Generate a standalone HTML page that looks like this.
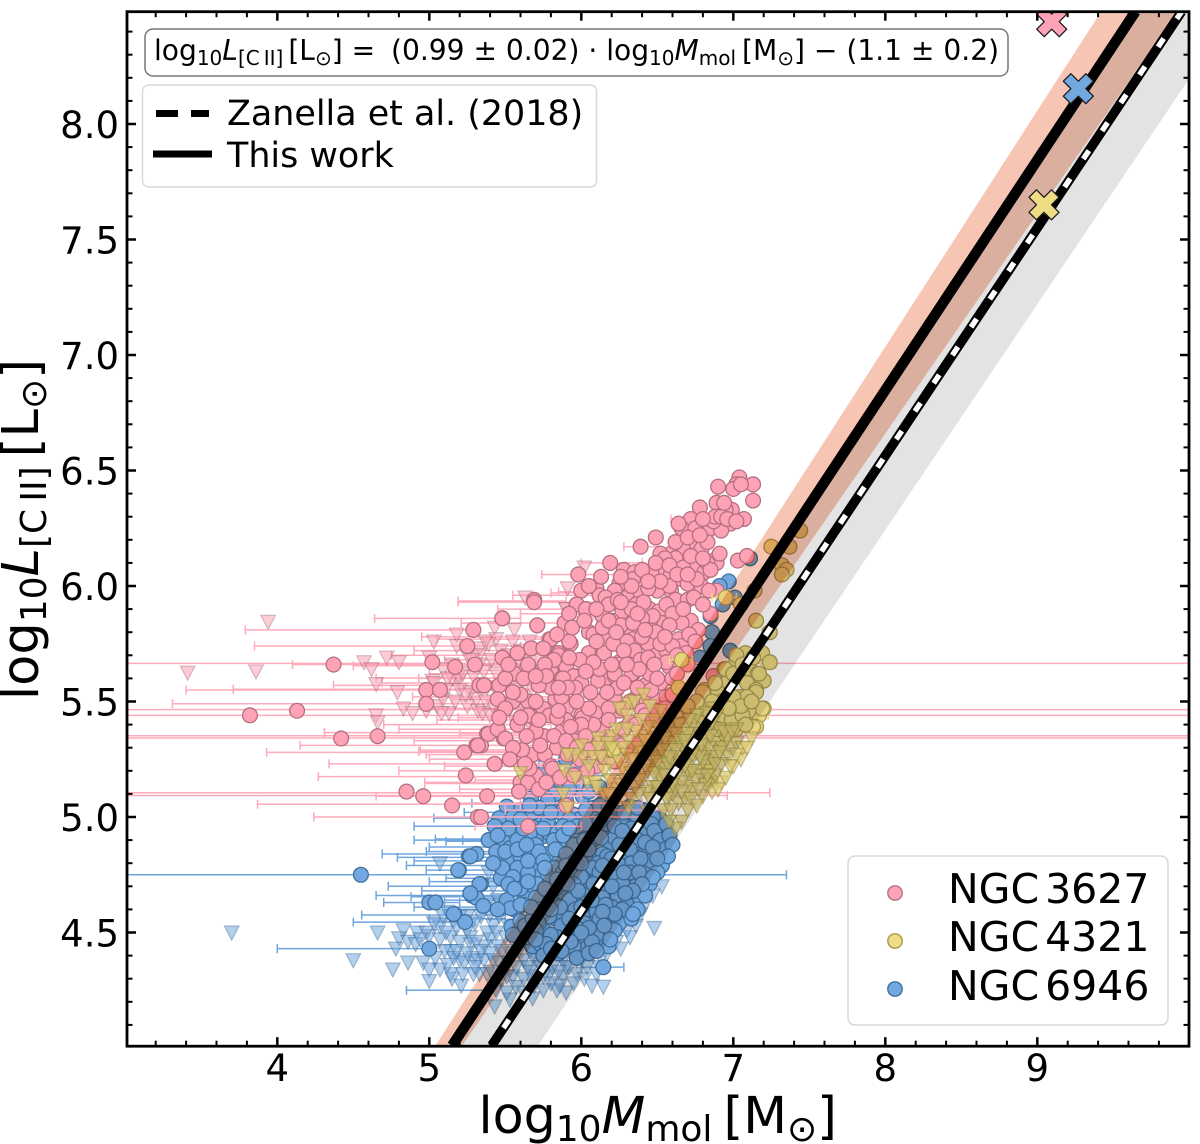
<!DOCTYPE html>
<html lang="en">
<head>
<meta charset="utf-8">
<title>L[CII] vs Mmol</title>
<style>
html,body{margin:0;padding:0;background:#fff;}
svg{display:block;font-family:"DejaVu Sans","Liberation Sans",sans-serif;}
.it{font-style:italic;}
</style>
</head>
<body>
<svg id="chart" xmlns="http://www.w3.org/2000/svg" width="1200" height="1144" viewBox="0 0 1200 1144">
<defs><clipPath id="plot-clip"><rect x="127" y="11.7" width="1062" height="1034.5"></rect></clipPath></defs>
<rect width="1200" height="1144" fill="#fff"></rect>
<g id="plot" clip-path="url(#plot-clip)"></g>
<g id="axes"></g>

<text x="478.5" y="1133" font-size="50.7" fill="#000">log<tspan font-size="36" dy="8">10</tspan><tspan class="it" dy="-8">M</tspan><tspan font-size="36" dy="8">mol</tspan><tspan dy="-8" dx="11">[M</tspan><tspan font-size="36" dy="8">⊙</tspan><tspan dy="-8">]</tspan></text>
<text transform="translate(38,700) rotate(-90)" font-size="51" fill="#000">log<tspan font-size="36" dy="8">10</tspan><tspan class="it" dy="-8">L</tspan><tspan font-size="36" dy="8">[C&#8201;II]</tspan><tspan dy="-8" dx="9">[L</tspan><tspan font-size="36" dy="8">⊙</tspan><tspan dy="-8">]</tspan></text>

<g>
<rect x="145" y="29" width="863" height="47" rx="8" fill="#fff" stroke="#777" stroke-width="1.5"></rect>
<text x="154" y="60" font-size="28.1" fill="#000">log<tspan font-size="20" dy="5">10</tspan><tspan class="it" dy="-5">L</tspan><tspan font-size="20" dy="5">[C&#8201;II]</tspan><tspan dy="-5" dx="5">[L</tspan><tspan font-size="20" dy="5">⊙</tspan><tspan dy="-5">] =&#160;&#160;<tspan dx="-2">(0.99 ± 0.02) · log</tspan></tspan><tspan font-size="20" dy="5">10</tspan><tspan class="it" dy="-5">M</tspan><tspan font-size="20" dy="5">mol</tspan><tspan dy="-5" dx="6">[M</tspan><tspan font-size="20" dy="5">⊙</tspan><tspan dy="-5">] − (1.1 ± 0.2)</tspan></text>
</g>

<g>
<rect x="142.5" y="85" width="454" height="102" rx="6" fill="#fff" fill-opacity="0.8" stroke="#d9d9d9" stroke-width="1.5"></rect>
<line x1="156" y1="113.5" x2="178" y2="113.5" stroke="#000" stroke-width="7"></line>
<line x1="191" y1="113.5" x2="209" y2="113.5" stroke="#000" stroke-width="7"></line>
<text x="227" y="125" font-size="34.9" fill="#000">Zanella et al. (2018)</text>
<line x1="153" y1="154" x2="212" y2="154" stroke="#000" stroke-width="7"></line>
<text x="227" y="167" font-size="34.9" fill="#000">This work</text>
</g>

<g>
<rect x="848" y="856" width="320" height="169" rx="7" fill="#fff" fill-opacity="0.8" stroke="#d9d9d9" stroke-width="1.5"></rect>
<circle cx="895" cy="893" r="7.2" fill="#fda3b5" stroke="#b56f80" stroke-width="1.4"></circle>
<text x="948" y="903" font-size="41" fill="#000">NGC<tspan dx="6">3627</tspan></text>
<circle cx="895" cy="941" r="7.2" fill="#efdd86" stroke="#a8994f" stroke-width="1.4"></circle>
<text x="948" y="951" font-size="41" fill="#000">NGC<tspan dx="6">4321</tspan></text>
<circle cx="895" cy="989" r="7.2" fill="#74a9e0" stroke="#3f709e" stroke-width="1.4"></circle>
<text x="948" y="1000" font-size="41" fill="#000">NGC<tspan dx="6">6946</tspan></text>
</g>

<script>
const xMajorTicks=[4,5,6,7,8,9];
const xMinorTicks=[3.2,3.4,3.6,3.8,4.2,4.4,4.6,4.8,5.2,5.4,5.6,5.8,6.2,6.4,6.6,6.8,7.2,7.4,7.6,7.8,8.2,8.4,8.6,8.8,9.2,9.4,9.6,9.8];
const yMajorTicks=[4.5,5.0,5.5,6.0,6.5,7.0,7.5,8.0];
const yMinorTicks=[4.1,4.2,4.3,4.4,4.6,4.7,4.8,4.9,5.1,5.2,5.3,5.4,5.6,5.7,5.8,5.9,6.1,6.2,6.3,6.4,6.6,6.7,6.8,6.9,7.1,7.2,7.3,7.4,7.6,7.7,7.8,7.9,8.1,8.2,8.3,8.4];
const xTickLabels=["4","5","6","7","8","9"];
const yTickLabels=["4.5","5.0","5.5","6.0","6.5","7.0","7.5","8.0"];

const grayBandX=[5.19,9.64,10.30,5.715];
const grayBandY=[4.01,8.49,8.49,4.01];
const redBandX=[5.04,9.42,9.92,5.215];
const redBandY=[4.01,8.487,8.487,4.01];
const thisWorkX=[5.15,9.646];
const thisWorkY=[4.01,8.487];
const zanellaX=[5.41,9.95];
const zanellaY=[4.01,8.487];
const crossNgc3627=[9.095,8.443];
const crossNgc4321=[9.044,7.65];
const crossNgc6946=[9.27,8.153];

const pinkErrorBars=[[5.665,2,11],[5.465,2,11],[5.44,2,11],[5.352,2,11],[5.342,2,11],[5.105,2,7.24],[5.093,2,6.96],[5.935,5.19,5.9],[5.86,4.64,5.6],[5.81,3.79,5.31],[5.74,3.85,5.6],[5.66,4.10,6.2],[5.655,4.50,5.9],[5.60,4.93,5.9],[5.602,4.65,5.7],[5.57,4.37,6.0],[5.55,3.40,5.7],[5.553,3.71,5.8],[5.49,3.31,5.9],[5.365,4.31,5.7],[5.31,4.15,5.9],[5.28,3.93,5.8],[5.283,4.93,6.1],[5.23,4.34,5.8],[5.175,4.27,5.9],[5.15,4.97,6.1],[5.055,3.87,5.6],[5.00,4.24,6.4],[5.09,4.65,6.0],[6.05,5.74,6.25],[5.97,5.80,6.3],[5.975,5.85,6.4],[6.17,6.28,6.5],[6.29,6.59,6.85],[6.10,6.0,6.4],[5.84,5.21,6.0],[5.93,5.19,6.1],[5.78,4.95,5.9],[5.72,4.9,5.6],[5.70,4.75,5.7],[5.62,5.0,5.9],[5.58,4.69,5.6],[5.52,4.89,6.0],[5.47,5.0,5.9],[5.43,5.19,6.1],[5.40,4.7,5.8],[5.38,4.8,5.9],[5.33,4.9,5.9],[5.29,4.94,6.0],[5.25,5.0,6.1],[5.20,4.8,6.0],[5.16,5.30,6.0],[5.145,4.97,6.0],[5.06,5.15,6.4],[5.03,5.5,6.6],[4.96,5.30,6.0],[5.77,5.05,5.8],[5.68,5.1,5.7],[5.635,5.2,5.9],[5.51,5.15,5.8],[5.42,5.05,5.7],[5.36,5.2,5.9],[5.27,4.98,5.9],[5.22,5.1,6.0],[5.12,5.2,6.1],[5.96,5.55,6.1],[5.90,5.45,6.05],[5.88,5.6,6.0]];

const pinkTriangles=[[3.94,5.845],[5.03,5.76],[5.18,5.79],[5.18,5.74],[3.41,5.625],[3.86,5.63],[4.57,5.67],[4.72,5.69],[4.80,5.67],[4.62,5.64],[5.0,5.69],[4.65,5.575],[4.79,5.54],[4.83,5.47],[4.89,5.45],[4.65,5.44],[4.66,5.41],[4.98,5.46],[5.13,5.45],[5.05,5.48],[5.09,5.64],[5.15,5.66],[5.19,5.59],[5.15,5.60],[5.29,5.61],[5.20,5.55],[5.27,5.54],[5.25,5.48],[5.17,5.50],[5.32,5.46],[5.02,5.59],[5.43,5.82],[5.56,5.81],[5.44,5.77],[5.55,5.76],[5.39,5.75],[5.33,5.73],[5.33,5.70],[5.66,5.76],[5.90,5.90],[5.19,5.61],[5.09,5.51],[5.35,5.45],[5.40,5.44],[5.48,5.43],[5.57,5.41],[5.42,5.48],[5.59,5.68],[5.44,5.62],[5.73,5.62],[5.68,5.59],[5.75,5.57],[5.90,5.53],[6.03,5.85],[5.67,5.56],[5.03,5.58],[5.63,5.95],[5.91,5.99],[6.02,6.08],[5.90,5.90],[6.05,5.85],[5.37,5.76],[5.74,5.63],[5.47,5.44],[5.33,5.66],[5.25,5.70],[5.60,5.72],[5.52,5.55],[5.38,5.56],[5.28,5.68],[5.22,5.62],[5.12,5.60],[5.08,5.45],[5.11,5.55],[5.24,5.53],[5.31,5.51],[5.36,5.63],[5.41,5.68],[5.47,5.72],[5.52,5.70],[5.58,5.62],[5.63,5.70],[5.70,5.68],[5.80,5.60],[5.37,5.50],[5.43,5.56],[5.53,5.47],[5.60,5.50],[5.66,5.40]];

const pinkCircles=[[7.04,6.47],[7.02,6.44],[7.13,6.44],[6.90,6.43],[7.00,6.42],[7.05,6.44],[7.13,6.37],[6.89,6.36],[6.78,6.34],[6.99,6.33],[6.95,6.33],[7.07,6.29],[6.98,6.27],[6.72,6.29],[6.66,6.25],[6.85,6.25],[6.75,6.25],[6.92,6.24],[6.87,6.28],[6.49,6.21],[6.39,6.17],[6.75,6.18],[6.79,6.16],[6.67,6.16],[6.59,6.14],[6.52,6.14],[6.62,6.12],[6.87,6.11],[6.89,6.10],[7.03,6.11],[7.09,6.13],[6.71,6.09],[6.76,6.09],[6.54,6.08],[6.46,6.06],[6.59,6.05],[6.28,6.07],[6.19,6.10],[6.35,6.06],[6.34,6.03],[5.98,6.05],[6.66,6.03],[6.70,6.01],[6.79,6.00],[6.25,6.01],[6.10,5.99],[6.00,5.98],[6.22,5.98],[6.59,5.98],[6.12,5.96],[6.30,5.95],[6.16,5.95],[6.39,5.97],[6.50,5.98],[6.62,5.94],[6.70,5.94],[6.89,5.98],[5.97,5.92],[5.69,5.94],[6.36,5.92],[6.27,5.89],[6.45,5.90],[6.51,5.89],[6.14,5.87],[6.20,5.85],[6.85,5.88],[6.33,5.81],[6.63,5.87],[6.53,5.84],[6.45,5.84],[6.72,5.85],[6.77,5.81],[6.66,5.84],[5.71,5.83],[5.89,5.84],[5.48,5.86],[6.08,5.79],[6.17,5.78],[6.05,5.80],[6.34,5.77],[6.64,5.77],[6.44,5.75],[5.92,5.76],[5.79,5.77],[6.30,5.76],[5.67,5.73],[5.76,5.73],[6.05,5.71],[6.14,5.71],[6.35,5.72],[5.85,5.71],[6.25,5.67],[5.48,5.69],[6.54,5.72],[6.66,5.74],[5.90,5.65],[6.12,5.64],[5.80,5.63],[5.56,5.62],[5.96,5.61],[5.87,5.60],[6.34,5.62],[6.46,5.63],[6.16,5.60],[6.00,5.58],[6.11,5.59],[6.22,5.61],[5.36,5.57],[5.46,5.57],[6.42,5.57],[6.23,5.55],[5.60,5.53],[5.45,5.51],[5.55,5.50],[5.65,5.50],[5.83,5.51],[6.12,5.50],[6.22,5.51],[5.74,5.47],[5.90,5.47],[6.35,5.51],[5.65,5.44],[5.69,5.43],[6.09,5.45],[6.00,5.44],[6.25,5.46],[6.43,5.50],[6.07,5.40],[5.45,5.38],[5.38,5.36],[5.49,5.34],[5.75,5.35],[5.87,5.37],[5.95,5.36],[5.99,5.39],[6.27,5.38],[6.14,5.37],[5.95,5.33],[5.84,5.30],[5.61,5.29],[5.68,5.27],[5.76,5.27],[5.34,5.31],[5.43,5.23],[5.80,5.22],[6.10,5.22],[6.87,5.61],[5.93,5.75],[6.15,5.71],[6.25,5.66],[6.44,5.75],[6.49,5.70],[6.56,5.72],[5.95,5.61],[6.12,5.64],[6.33,5.62],[6.45,5.62],[6.24,5.56],[6.49,5.51],[6.43,5.54],[6.08,5.40],[6.28,5.38],[6.01,5.43],[6.22,5.62],[6.58,5.65],[6.52,5.58],[6.39,5.68],[5.99,5.68],[4.37,5.66],[5.02,5.67],[5.17,5.65],[5.30,5.66],[5.25,5.74],[5.29,5.81],[4.98,5.55],[5.07,5.55],[4.98,5.49],[4.13,5.46],[3.82,5.44],[4.66,5.35],[4.42,5.34],[5.23,5.28],[5.31,5.31],[5.24,5.18],[4.85,5.11],[4.96,5.09],[5.15,5.05],[5.32,5.00],[5.33,5.57],[5.69,5.93],[5.97,5.92],[5.48,5.86],[5.71,5.83],[5.89,5.84],[5.67,5.73],[5.80,5.77],[5.92,5.76],[5.85,5.70],[6.08,5.79],[5.56,5.62],[5.50,5.60],[5.36,5.57],[5.60,5.53],[5.75,5.47],[5.83,5.51],[5.65,5.44],[5.88,5.60],[6.00,5.58],[5.39,5.36],[5.45,5.38],[5.50,5.34],[5.32,5.31],[5.75,5.35],[5.61,5.29],[5.90,5.42],[6.0,5.40],[5.43,5.23],[5.70,5.18],[5.81,5.21],[5.60,5.15],[5.65,5.15],[5.59,5.11],[5.38,5.09],[5.65,4.96],[5.90,5.05],[5.34,5.00],[6.18,5.92],[6.24,5.94],[6.33,5.90],[6.41,5.93],[6.47,5.87],[6.56,5.92],[6.60,5.88],[6.67,5.90],[6.74,5.95],[6.80,5.92],[6.71,5.79],[6.58,5.83],[6.49,5.80],[6.40,5.86],[6.26,5.83],[6.14,5.82],[6.10,5.76],[6.21,5.75],[6.28,5.72],[6.40,5.78],[6.44,5.69],[6.52,5.75],[6.60,5.74],[6.69,5.71],[6.56,5.67],[6.48,5.66],[6.38,5.64],[6.30,5.66],[6.20,5.66],[6.08,5.67],[6.03,5.63],[5.92,5.69],[5.96,5.56],[6.06,5.54],[6.17,5.54],[6.28,5.58],[6.37,5.56],[6.46,5.55],[6.50,5.60],[6.60,5.60],[6.32,5.50],[6.27,5.47],[6.18,5.47],[6.05,5.47],[5.97,5.50],[5.87,5.52],[5.80,5.56],[5.72,5.57],[5.70,5.50],[5.79,5.44],[5.84,5.43],[5.93,5.39],[6.03,5.35],[6.12,5.32],[6.20,5.34],[6.32,5.41],[6.40,5.46],[6.18,5.42],[5.82,5.35],[5.70,5.37],[5.58,5.40],[5.55,5.30],[5.66,5.21],[5.73,5.31],[5.91,5.27],[5.99,5.25],[6.05,5.29],[6.15,5.26],[6.22,5.24],[5.72,5.12],[5.77,5.15],[5.86,5.17],[5.95,5.18],[6.04,5.20],[6.58,6.00],[6.52,6.02],[6.44,5.99],[6.33,6.00],[6.40,6.07],[6.55,6.12],[6.67,6.08],[6.81,6.06],[6.72,6.13],[6.83,6.19],[6.88,6.30],[6.92,6.30],[6.80,6.29],[6.83,6.10],[6.76,6.03],[6.84,5.98],[6.62,6.19],[6.70,6.21],[6.64,6.27],[6.78,6.22],[6.94,6.36],[6.96,6.29],[7.02,6.28],[6.91,6.14],[6.85,6.07],[6.26,6.04],[6.13,6.04],[6.05,6.00],[5.92,5.88],[6.03,5.90],[6.10,5.90],[6.18,5.85],[6.23,5.80],[6.34,5.84],[6.42,5.81],[6.55,5.78],[6.63,5.70],[6.75,5.76],[5.82,5.68],[5.76,5.66],[5.65,5.66],[5.58,5.71],[5.52,5.66],[5.62,5.60],[5.55,5.54],[5.50,5.47],[5.46,5.43],[5.60,5.43],[6.42,5.44],[6.36,5.40],[6.47,5.42],[6.50,5.46],[6.38,5.33],[6.30,5.30],[6.26,5.31],[6.56,5.52],[6.63,5.62],[6.70,5.66],[6.55,5.47],[6.60,5.53],[5.72,5.42],[5.85,5.46],[5.91,5.56],[5.77,5.61],[5.85,5.56],[5.70,5.61],[5.75,5.73],[5.84,5.79],[5.94,5.82],[6.02,5.85],[6.37,5.88],[6.26,5.93],[6.44,6.02],[6.49,6.10],[6.58,6.09],[6.63,6.05],[6.70,6.05],[6.80,6.12],[5.64,5.35],[5.53,5.25],[5.63,5.23],[5.90,5.33],[5.97,5.30]];

const yellowErrorBars=[[5.68,6.58,6.73],[5.95,6.86,7.02],[5.47,7.15,7.24],[5.44,7.10,7.23],[5.66,7.18,7.28],[5.56,6.60,6.70],[5.80,7.19,7.28]];

const yellowCircles=[[7.44,6.24],[7.25,6.17],[7.37,6.17],[7.32,6.09],[7.35,6.07],[7.32,6.05],[7.14,5.98],[7.05,5.92],[6.95,5.95],[7.15,5.85],[7.24,5.80],[6.66,5.68],[6.64,5.56],[7.08,5.71],[7.19,5.71],[7.24,5.67],[7.02,5.68],[6.94,5.64],[7.11,5.64],[7.16,5.62],[7.03,5.61],[6.96,5.58],[7.20,5.59],[7.09,5.58],[7.15,5.55],[6.81,5.55],[6.90,5.54],[7.04,5.52],[7.20,5.47],[7.11,5.46],[7.17,5.44],[6.81,5.48],[6.74,5.46],[7.02,5.38],[6.93,5.43],[6.69,5.43],[6.63,5.43],[7.15,5.39],[6.59,5.37],[6.20,5.29],[6.80,5.54],[6.95,5.64],[7.02,5.70],[7.17,5.62],[7.15,5.54],[7.19,5.47],[7.10,5.46],[7.13,5.39],[6.85,5.16],[6.61,5.38],[6.93,5.42],[6.63,5.33],[6.75,5.35],[6.52,5.28],[6.21,5.29],[6.80,5.28],[6.91,5.32],[7.0,5.46],[7.00,5.62],[7.06,5.66],[7.13,5.69],[7.09,5.52],[7.00,5.52],[6.92,5.50],[6.85,5.44],[6.99,5.42],[7.06,5.44],[6.87,5.34],[6.70,5.36],[6.57,5.32],[6.47,5.34],[6.42,5.29],[6.95,5.36],[7.08,5.40],[6.86,5.50],[6.76,5.50],[6.70,5.48],[6.88,5.58],[7.05,5.48],[7.12,5.50],[6.97,5.47],[6.90,5.38],[6.83,5.40],[6.77,5.41],[6.66,5.40],[6.55,5.38],[6.72,5.30],[6.84,5.22],[6.60,5.25],[6.50,5.22]];

const yellowTriangles=[[6.41,5.53],[6.31,5.49],[6.25,5.47],[6.30,5.44],[6.39,5.42],[6.40,5.35],[6.20,5.35],[6.11,5.34],[6.17,5.32],[6.31,5.33],[6.27,5.30],[6.11,5.30],[6.01,5.26],[5.96,5.27],[5.91,5.27],[6.08,5.26],[6.19,5.23],[6.27,5.21],[6.15,5.20],[5.89,5.20],[5.96,5.17],[6.04,5.15],[6.09,5.15],[5.88,5.10],[5.91,5.04],[6.15,5.10],[6.35,5.13],[6.31,5.04],[6.19,5.16],[6.44,5.20],[6.50,5.19],[6.54,5.26],[6.63,5.26],[6.61,5.32],[6.52,5.34],[6.56,5.15],[6.62,5.12],[6.54,5.03],[6.64,5.06],[6.66,4.98],[6.62,4.95],[6.58,5.09],[6.73,5.12],[6.80,5.09],[6.86,5.11],[6.92,5.15],[6.95,5.17],[7.0,5.22],[7.05,5.25],[6.69,5.19],[6.77,5.20],[6.85,5.26],[6.91,5.38],[6.82,5.33],[6.98,5.30],[7.02,5.32],[7.12,5.34],[7.02,5.38],[6.76,5.28],[6.65,5.22],[6.46,5.26],[6.41,5.17],[6.36,5.20],[6.47,5.13],[6.69,5.27],[6.89,5.26],[6.93,5.30],[6.89,5.44],[6.80,5.41],[6.72,5.38],[6.67,5.30],[6.54,5.21],[6.61,5.20],[6.52,5.17],[6.39,5.25],[5.60,5.19],[6.78,5.18],[6.70,5.13],[6.45,5.30],[6.58,5.40],[6.30,5.27],[6.23,5.38],[6.48,5.42],[6.85,5.20],[6.72,5.24],[6.60,5.10],[6.48,5.19],[6.43,5.11],[6.38,5.16],[6.33,5.08],[6.24,5.12],[6.37,5.30],[6.49,5.36],[6.57,5.30],[6.55,5.34],[6.63,5.18],[6.68,5.08],[6.75,5.16],[6.82,5.14],[6.88,5.18],[6.97,5.26],[6.92,5.23],[6.80,5.24],[6.84,5.30],[6.74,5.31],[6.70,5.36],[6.64,5.40],[6.78,5.36],[6.86,5.41],[6.96,5.34],[7.06,5.30],[6.50,5.24],[6.42,5.22],[6.34,5.25],[6.26,5.14],[6.56,5.08],[6.51,5.10],[6.59,5.03],[6.71,5.19],[6.66,5.15],[6.57,5.23],[6.45,5.08],[6.38,5.10],[6.50,5.13],[6.55,5.18],[6.60,5.14],[6.66,5.11],[6.72,5.08],[6.77,5.12],[6.83,5.18],[6.90,5.12],[6.88,5.23],[6.78,5.26],[6.73,5.20],[6.68,5.22],[6.62,5.29],[6.58,5.26],[6.53,5.29],[6.48,5.31],[6.42,5.33],[6.36,5.37],[6.30,5.38],[6.44,5.39],[6.51,5.38],[6.56,5.42],[6.62,5.36],[6.68,5.33],[6.73,5.27],[6.79,5.31],[6.85,5.35],[6.91,5.28],[6.98,5.22],[7.02,5.27],[7.09,5.30],[6.94,5.37],[6.99,5.37],[6.87,5.47],[6.82,5.45],[6.76,5.44],[6.71,5.42],[6.60,5.44],[6.52,5.46],[6.45,5.48],[6.35,5.50],[6.40,5.28],[6.33,5.19],[6.29,5.16],[6.25,5.24],[6.20,5.30],[6.13,5.26],[6.05,5.22],[6.00,5.31],[6.10,5.13],[6.18,5.10],[6.22,5.06],[6.44,5.02],[6.70,5.03],[6.76,5.05],[6.58,4.98]];

const blueErrorBars=[[4.75,2,7.35],[4.96,4.90,6.0],[4.995,5.03,6.1],[5.02,5.23,6.2],[5.06,5.28,6.3],[4.90,4.90,5.9],[4.905,5.04,5.8],[4.895,5.11,5.7],[4.90,5.22,5.6],[4.84,4.69,5.5],[4.825,4.79,5.5],[4.85,4.98,5.7],[4.77,4.98,5.6],[4.735,5.11,5.7],[4.70,4.73,5.6],[4.66,4.65,5.5],[4.655,4.88,5.6],[4.61,4.90,5.4],[4.576,4.555,5.5],[4.545,4.50,5.3],[4.25,4.85,5.40],[4.43,4.0,5.0],[4.35,6.0,6.28],[4.79,4.85,5.5],[4.68,4.95,5.6],[4.63,4.7,5.2],[5.12,5.75,6.4],[5.18,5.85,6.3],[5.24,5.72,6.2],[4.87,5.0,5.6],[4.81,4.9,5.5],[4.72,5.0,5.5],[4.64,5.1,5.5],[4.60,5.1,5.6],[4.56,5.0,5.5]];

const blueTriangles=[[4.50,4.38],[3.70,4.50],[4.66,4.50],[4.83,4.51],[4.92,4.50],[4.80,4.475],[4.86,4.46],[4.91,4.45],[4.78,4.43],[4.76,4.34],[4.86,4.37],[4.96,4.37],[5.0,4.485],[5.07,4.525],[5.07,4.80],[5.14,4.42],[5.0,4.34],[5.07,4.34],[5.0,4.29],[5.15,4.30],[5.21,4.27],[5.20,4.38],[5.29,4.39],[5.27,4.45],[5.40,4.47],[5.42,4.38],[5.33,4.32],[5.46,4.37],[5.55,4.31],[5.44,4.25],[5.43,4.18],[5.53,4.21],[5.68,4.215],[5.57,4.35],[5.62,4.38],[5.70,4.31],[5.79,4.32],[5.84,4.25],[5.90,4.24],[5.97,4.32],[6.02,4.30],[6.145,4.265],[6.10,4.32],[5.88,4.38],[6.0,4.38],[6.13,4.39],[6.19,4.45],[6.23,4.46],[6.32,4.48],[6.30,4.51],[6.39,4.58],[6.47,4.66],[6.57,4.81],[6.51,4.78],[6.58,4.90],[6.34,4.63],[5.75,4.44],[5.84,4.44],[5.93,4.42],[5.16,4.55],[5.27,4.48],[5.36,4.44],[5.45,4.44],[5.50,4.48],[5.38,4.50],[5.42,4.53],[5.46,4.57],[5.62,4.47],[5.71,4.38],[5.79,4.38],[5.32,4.38],[5.23,4.37],[5.16,4.39],[5.10,4.42],[5.53,4.41],[5.38,4.32],[5.51,4.31],[5.62,4.30],[5.75,4.31],[5.88,4.31],[5.97,4.38],[6.06,4.41],[6.17,4.41],[6.25,4.54],[6.30,4.57],[6.23,4.50],[6.19,4.50],[6.08,4.44],[5.03,4.54],[4.98,4.50],[4.94,4.47],[5.07,4.47],[5.14,4.48],[5.18,4.52],[5.25,4.51],[5.14,4.32],[5.22,4.32],[5.29,4.32],[5.36,4.38],[5.71,4.47],[5.99,4.42],[5.86,4.27],[5.57,4.265],[5.51,4.24],[5.39,4.76],[5.42,4.70],[5.45,4.64],[5.40,4.58],[5.50,4.61],[5.34,4.57],[5.09,4.57],[5.25,4.57],[5.11,4.50],[5.20,4.46],[5.31,4.46],[5.34,4.42],[5.25,4.41],[5.40,4.41],[5.44,4.50],[5.48,4.42],[5.52,4.37],[5.59,4.42],[5.65,4.35],[5.66,4.42],[5.73,4.35],[5.81,4.35],[5.92,4.35],[5.95,4.28],[5.80,4.28],[5.69,4.27],[5.62,4.24],[5.75,4.25],[5.47,4.30],[5.41,4.33],[5.30,4.35],[5.18,4.42],[5.12,4.36],[5.04,4.39],[5.56,4.45],[5.60,4.51],[5.52,4.53],[5.47,4.62],[5.38,4.62],[5.30,4.54],[5.20,4.57],[5.12,4.59],[6.04,4.35],[6.12,4.35],[6.07,4.27],[6.15,4.46],[6.26,4.43],[6.36,4.53],[6.42,4.62],[6.45,4.72],[6.53,4.70],[6.55,4.85],[6.48,4.52],[5.90,4.35],[5.85,4.33],[5.77,4.41],[5.68,4.40],[5.66,4.33]];

const blueCircles=[[5.95,5.01],[6.05,5.0],[6.14,5.02],[6.19,4.94],[6.30,4.96],[6.41,4.97],[6.52,4.99],[6.54,4.94],[6.45,4.92],[6.01,5.22],[5.93,5.19],[5.87,5.13],[5.97,5.15],[5.90,5.07],[6.01,5.09],[6.08,5.04],[6.14,5.06],[5.86,5.03],[5.90,5.25],[5.77,5.13],[5.75,5.19],[6.97,6.02],[6.91,6.0],[7.01,5.95],[6.93,5.92],[6.86,5.80],[6.85,5.74],[6.78,5.69],[7.11,6.12],[6.85,5.87],[6.98,5.72],[6.16,5.52],[5.39,4.90],[5.49,4.89],[5.53,4.865],[5.44,4.85],[5.31,4.84],[5.26,4.83],[5.52,4.81],[5.66,4.85],[5.78,4.84],[5.74,4.915],[5.63,4.90],[5.61,4.81],[5.69,4.80],[5.86,4.81],[5.91,4.90],[5.80,4.78],[5.195,4.77],[5.48,4.77],[5.47,4.735],[5.34,4.71],[5.28,4.66],[5.31,4.65],[5.355,4.615],[5.51,4.64],[5.64,4.65],[5.56,4.60],[5.66,4.69],[5.75,4.72],[5.76,4.64],[5.89,4.67],[5.83,4.62],[5.97,4.66],[5.90,4.61],[5.88,4.57],[5.83,4.56],[5.76,4.505],[5.165,4.58],[5.235,4.545],[5.54,4.525],[5.68,4.44],[6.145,4.35],[6.05,4.75],[6.07,4.73],[6.23,4.685],[6.29,4.72],[6.19,4.88],[6.39,4.86],[6.50,4.86],[6.53,4.945],[6.41,4.77],[6.35,4.75],[6.17,4.605],[6.32,4.605],[6.08,4.56],[6.19,4.55],[6.11,4.53],[5.99,4.58],[5.95,4.54],[6.08,4.90],[5.99,4.93],[6.30,4.93],[6.43,4.93],[6.17,4.97],[6.39,4.99],[6.47,5.00],[6.01,4.86],[6.14,4.84],[6.29,4.83],[6.03,4.77],[6.17,4.785],[6.25,4.77],[6.44,4.82],[6.06,4.815],[5.97,4.75],[6.11,4.71],[6.19,4.73],[6.36,4.785],[6.01,4.69],[6.27,4.64],[6.10,4.64],[6.01,4.63],[5.87,4.53],[6.06,4.50],[6.17,4.50],[5.99,4.47],[5.90,4.45],[5.84,4.48],[5.82,4.44],[5.73,4.45],[5.64,4.48],[5.79,4.93],[5.86,4.87],[5.95,4.85],[6.03,4.815],[5.84,4.945],[5.68,4.97],[5.60,5.03],[5.73,5.01],[5.86,5.02],[5.51,5.045],[5.46,4.995],[5.43,4.96],[5.99,4.99],[6.10,5.00],[6.23,5.02],[6.32,5.045],[6.41,5.03],[6.12,5.05],[5.79,5.045],[4.55,4.75],[5.19,4.77],[5.0,4.63],[5.04,4.63],[5.16,4.58],[5.0,4.43],[5.27,4.83],[5.33,4.71],[5.48,4.78],[5.27,4.67],[5.535,4.605],[5.63,4.65],[6.22,4.91],[6.36,4.70],[6.27,4.85],[6.34,4.92],[6.11,4.80],[6.21,4.66],[6.05,4.60],[6.13,4.62],[5.93,4.75],[5.93,4.82],[5.70,4.90],[5.72,4.74],[5.60,4.76],[5.71,4.58],[5.79,4.57],[5.96,4.92],[6.24,4.58],[5.92,4.49],[6.03,4.43],[6.13,4.45],[5.55,5.00],[5.68,5.02],[5.78,4.98],[5.92,4.99],[6.03,5.03],[6.26,4.99],[6.36,5.01],[6.46,4.97],[5.52,4.95],[5.66,4.93],[5.88,4.96],[5.97,4.96],[6.09,4.94],[6.22,4.96],[6.33,4.95],[6.48,4.94],[6.56,4.97],[5.45,4.92],[5.58,4.90],[5.70,4.88],[5.82,4.90],[5.95,4.88],[6.02,4.90],[6.13,4.91],[6.25,4.88],[6.37,4.90],[6.52,4.90],[5.50,4.85],[5.60,4.83],[5.72,4.85],[5.83,4.86],[5.90,4.84],[6.05,4.86],[6.17,4.83],[6.32,4.86],[6.42,4.84],[6.55,4.86],[5.42,4.80],[5.58,4.78],[5.75,4.81],[5.83,4.78],[5.96,4.81],[6.08,4.78],[6.20,4.82],[6.33,4.80],[6.46,4.81],[6.53,4.79],[5.55,4.74],[5.65,4.76],[5.78,4.74],[5.88,4.76],[6.0,4.74],[6.12,4.76],[6.22,4.74],[6.32,4.76],[6.42,4.73],[6.50,4.76],[5.52,4.71],[5.60,4.69],[5.71,4.71],[5.83,4.69],[5.95,4.71],[6.04,4.68],[6.16,4.70],[6.27,4.71],[6.38,4.69],[6.45,4.71],[5.70,4.65],[5.80,4.66],[5.92,4.64],[6.03,4.66],[6.14,4.65],[6.24,4.66],[6.34,4.64],[6.42,4.66],[5.45,4.60],[5.62,4.62],[5.72,4.60],[5.86,4.61],[5.96,4.60],[6.10,4.59],[6.20,4.61],[6.30,4.62],[6.37,4.60],[5.60,4.55],[5.72,4.54],[5.92,4.56],[6.02,4.54],[6.12,4.56],[6.25,4.54],[6.33,4.56],[5.55,4.49],[5.70,4.51],[5.80,4.49],[5.97,4.52],[6.10,4.49],[6.22,4.51],[5.77,4.45],[5.95,4.44],[6.07,4.46],[6.18,4.44],[5.75,4.40],[5.85,4.41],[5.97,4.39],[6.05,4.41],[5.83,5.10],[5.92,5.12],[6.05,5.11],[6.12,5.13],[5.78,5.07],[5.67,5.08],[5.72,5.04],[6.03,4.97],[6.12,4.98],[6.27,4.94],[6.42,4.89],[6.47,4.87],[6.58,4.92],[6.60,4.88],[6.57,4.83],[6.50,4.82],[6.39,4.82],[6.24,4.80],[6.14,4.79],[6.00,4.80],[5.90,4.79],[6.28,4.76],[6.38,4.76],[6.47,4.74],[6.40,4.71],[6.34,4.68],[6.29,4.67],[6.20,4.70],[6.08,4.71],[5.98,4.68],[5.91,4.71],[6.00,4.61],[6.07,4.64],[6.16,4.62],[6.27,4.60],[6.34,4.58],[6.22,4.58],[6.14,4.59],[6.05,4.52],[6.15,4.53],[6.19,4.47],[6.00,4.50],[5.93,4.46],[6.10,4.42],[5.87,4.42],[5.80,4.43],[5.70,4.47],[5.63,4.53],[5.68,4.56],[5.80,4.60],[5.76,4.69],[5.65,4.72],[5.56,4.69],[5.60,4.62],[5.67,4.61],[5.84,4.73],[5.76,4.78],[5.65,4.81],[5.58,4.86],[5.64,4.88],[5.75,4.95],[5.88,4.92],[5.92,4.95],[5.62,4.95],[5.60,4.99],[5.66,5.05],[5.80,5.02],[6.18,5.04],[6.28,5.02],[6.37,5.04]];

const SVGNS="http://www.w3.org/2000/svg";
const plot=document.getElementById('plot');
const axes=document.getElementById('axes');
function xScale(v){return 277.3+152*(v-4);}
function yScale(v){return 124+231*(8-v);}
function mk(tag,parent){const e=document.createElementNS(SVGNS,tag);parent.appendChild(e);return e;}
function layer(parent){return mk('g',parent);}

function drawErrorBars(rows,color,name){
  const g=layer(plot);
  
  
  g.setAttribute('stroke',color);
  g.setAttribute('fill','none');
  rows.forEach(function(r){
    const y=yScale(r[0]),a=xScale(r[1]),b=xScale(r[2]);
    const p=mk('path',g);
    
    
    p.setAttribute('d','M'+a+' '+y+'H'+b+'M'+a+' '+(y-4.5)+'V'+(y+4.5)+'M'+b+' '+(y-4.5)+'V'+(y+4.5));
    p.setAttribute('stroke-width','1.5');
  });
}
function drawTriangles(rows,fill,stroke,opacity,name){
  const g=layer(plot);
  
  
  rows.forEach(function(r){
    const x=xScale(r[0]),y=yScale(r[1]);
    const p=mk('polygon',g);
    
    
    p.setAttribute('points',(x-7.2)+','+(y-6.4)+' '+(x+7.2)+','+(y-6.4)+' '+x+','+(y+7.4));
    p.setAttribute('fill',fill);
    p.setAttribute('stroke',stroke);
    p.setAttribute('stroke-width','1.2');
    p.setAttribute('opacity',opacity);
  });
}
function drawCircles(rows,fill,stroke,name){
  const g=layer(plot);
  
  
  rows.forEach(function(r){
    const c=mk('circle',g);
    
    
    c.setAttribute('cx',xScale(r[0]));
    c.setAttribute('cy',yScale(r[1]));
    c.setAttribute('r','7.4');
    c.setAttribute('fill',fill);
    c.setAttribute('stroke',stroke);
    c.setAttribute('stroke-width','1.3');
  });
}
function bandPoints(xs,ys){return xs.map(function(v,i){return xScale(v)+','+yScale(ys[i]);}).join(' ');}
function drawCross(pt,fill,name){
  const p=mk('polygon',plot);
  const x=xScale(pt[0]),y=yScale(pt[1]),u=7.5;
  const shape=[[-1,-2],[0,-1],[1,-2],[2,-1],[1,0],[2,1],[1,2],[0,1],[-1,2],[-2,1],[-1,0],[-2,-1]];
  
  
  p.setAttribute('points',shape.map(function(s){return (x+s[0]*u)+','+(y+s[1]*u);}).join(' '));
  p.setAttribute('fill',fill);
  p.setAttribute('stroke','#1c1c1c');
  p.setAttribute('stroke-width','1.3');
  p.setAttribute('stroke-linejoin','round');
}

drawErrorBars(blueErrorBars,'#70a6dd','ngc6946');
drawTriangles(blueTriangles,'#74a9e0','#3f709e','0.55','ngc6946');
drawCircles(blueCircles,'#72a8df','#40719e','ngc6946');
drawErrorBars(pinkErrorBars,'#ffabbc','ngc3627');
drawTriangles(pinkTriangles,'#fda3b5','#b56f80','0.55','ngc3627');
drawCircles(pinkCircles,'#fda3b5','#b56f80','ngc3627');
drawErrorBars(yellowErrorBars,'#efdd86','ngc4321');
drawCircles(yellowCircles,'#e6d47e','#a8994f','ngc4321');
drawTriangles(yellowTriangles,'#dcc96f','#a8994f','0.72','ngc4321');

const grayBand=mk('polygon',plot);


grayBand.setAttribute('points',bandPoints(grayBandX,grayBandY));
grayBand.setAttribute('fill','#e3e3e3');
grayBand.style.mixBlendMode='multiply';

const redBand=mk('polygon',plot);


redBand.setAttribute('points',bandPoints(redBandX,redBandY));
redBand.setAttribute('fill','#f6c5b3');
redBand.style.mixBlendMode='multiply';

const zanellaBlack=mk('line',plot);


zanellaBlack.setAttribute('x1',xScale(zanellaX[0]));
zanellaBlack.setAttribute('y1',yScale(zanellaY[0]));
zanellaBlack.setAttribute('x2',xScale(zanellaX[1]));
zanellaBlack.setAttribute('y2',yScale(zanellaY[1]));
zanellaBlack.setAttribute('stroke','#000');
zanellaBlack.setAttribute('stroke-width','9.5');

const zanellaWhite=mk('line',plot);


zanellaWhite.setAttribute('x1',xScale(zanellaX[0]));
zanellaWhite.setAttribute('y1',yScale(zanellaY[0]));
zanellaWhite.setAttribute('x2',xScale(zanellaX[1]));
zanellaWhite.setAttribute('y2',yScale(zanellaY[1]));
zanellaWhite.setAttribute('stroke','#fff');
zanellaWhite.setAttribute('stroke-width','5.4');
zanellaWhite.setAttribute('stroke-dasharray','10 23.7');
zanellaWhite.setAttribute('stroke-dashoffset','12.4');

const thisWorkLine=mk('line',plot);


thisWorkLine.setAttribute('x1',xScale(thisWorkX[0]));
thisWorkLine.setAttribute('y1',yScale(thisWorkY[0]));
thisWorkLine.setAttribute('x2',xScale(thisWorkX[1]));
thisWorkLine.setAttribute('y2',yScale(thisWorkY[1]));
thisWorkLine.setAttribute('stroke','#000');
thisWorkLine.setAttribute('stroke-width','10.5');

drawCross(crossNgc3627,'#fda3b5','ngc3627-total-marker');
drawCross(crossNgc4321,'#efdd86','ngc4321-total-marker');
drawCross(crossNgc6946,'#72a8df','ngc6946-total-marker');

const L=127,R=1189,T=11.7,B=1046.2;
function tick(x1,y1,x2,y2,w,name){
  const t=mk('line',axes);
  
  
  t.setAttribute('x1',x1);t.setAttribute('y1',y1);t.setAttribute('x2',x2);t.setAttribute('y2',y2);
  t.setAttribute('stroke','#000');t.setAttribute('stroke-width',w);
}
xMajorTicks.forEach(function(v){const x=xScale(v);tick(x,B,x,B-9,2.5,'x-major-tick');tick(x,T,x,T+9,2.5,'x-major-tick-top');});
xMinorTicks.forEach(function(v){const x=xScale(v);tick(x,B,x,B-5.5,2,'x-minor-tick');tick(x,T,x,T+5.5,2,'x-minor-tick-top');});
yMajorTicks.forEach(function(v){const y=yScale(v);tick(L,y,L+9,y,2.5,'y-major-tick');tick(R,y,R-9,y,2.5,'y-major-tick-right');});
yMinorTicks.forEach(function(v){const y=yScale(v);tick(L,y,L+5.5,y,2,'y-minor-tick');tick(R,y,R-5.5,y,2,'y-minor-tick-right');});

const frame=mk('rect',axes);


frame.setAttribute('x',L);frame.setAttribute('y',T);
frame.setAttribute('width',R-L);frame.setAttribute('height',B-T);
frame.setAttribute('fill','none');frame.setAttribute('stroke','#000');frame.setAttribute('stroke-width','2.8');

xMajorTicks.forEach(function(v,i){
  const t=mk('text',axes);
  
  
  t.setAttribute('x',xScale(v));t.setAttribute('y',1081);
  t.setAttribute('text-anchor','middle');t.setAttribute('font-size','37');
  t.textContent=xTickLabels[i];
});
yMajorTicks.forEach(function(v,i){
  const t=mk('text',axes);
  
  
  t.setAttribute('x',119);t.setAttribute('y',yScale(v)+14);
  t.setAttribute('text-anchor','end');t.setAttribute('font-size','37');
  t.textContent=yTickLabels[i];
});
</script>
</svg>
</body>
</html>
